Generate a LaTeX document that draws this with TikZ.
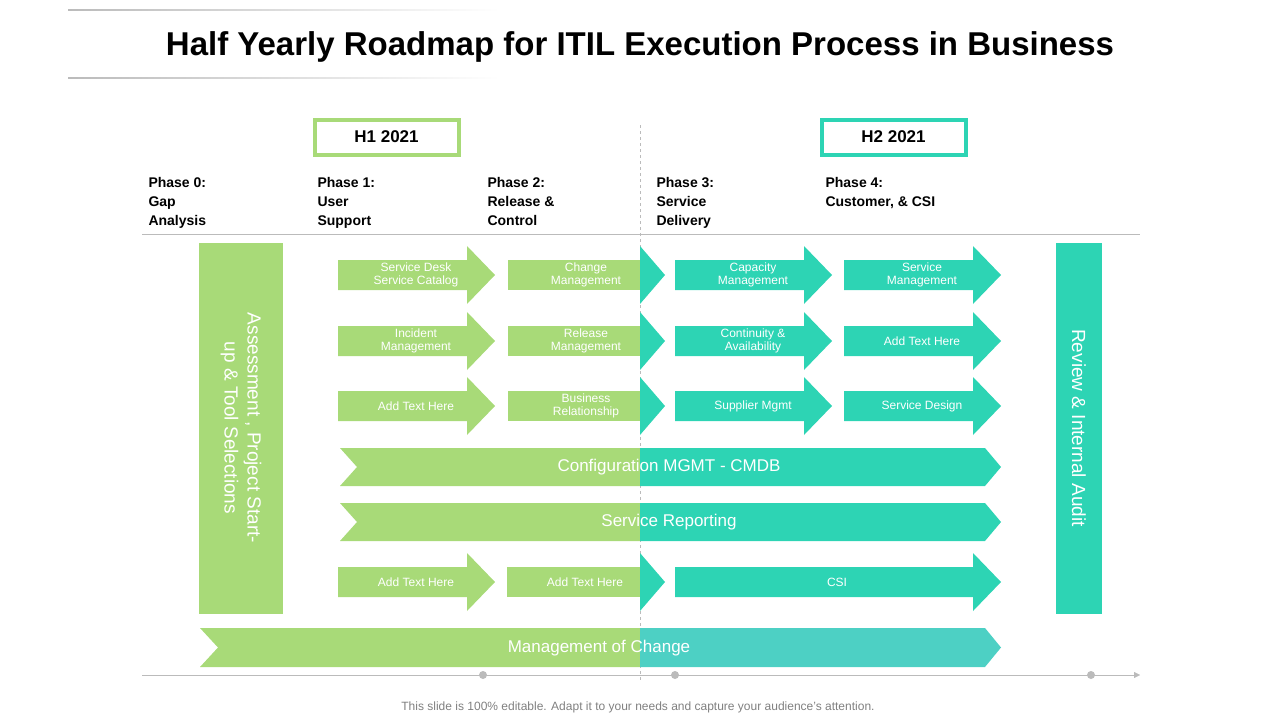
\documentclass[tikz,border=0pt]{standalone}
\usepackage{fontspec}
\setmainfont{Liberation Sans}
\usetikzlibrary{arrows.meta}
\definecolor{gr}{HTML}{A8DA78}
\definecolor{tl}{HTML}{2DD4B4}
\definecolor{tl2}{HTML}{4DD0C4}
\definecolor{ln}{HTML}{BBBBBB}
\tikzset{wt/.style={text=white,font=\fontsize{12}{13}\selectfont,align=center},
ph/.style={font=\fontsize{14}{19}\selectfont\bfseries,align=left,anchor=north west},
bt/.style={text=white,font=\fontsize{17}{19}\selectfont}}
% arrow: x1,x2,yc,color
\newcommand\myarr[4]{\fill[#4] (#1,#3-15)--(#2-28,#3-15)--(#2-28,#3-29)--(#2,#3)--(#2-28,#3+29)--(#2-28,#3+15)--(#1,#3+15)--cycle;}
\newcommand\mysplit[2]{\fill[gr] (#1,#2-15)--(640,#2-15)--(640,#2+15)--(#1,#2+15)--cycle;
\fill[tl] (640,#2-29)--(665,#2)--(640,#2+29)--cycle;}
\begin{document}
\begin{tikzpicture}[x=1pt,y=-1pt]
\useasboundingbox (0,0) rectangle (1280,720);
% title
\shade[left color=ln,right color=white] (68,9.5) rectangle (500,10.5);
\shade[left color=ln,right color=white] (68,77.5) rectangle (500,78.5);
\node (title) at (640,47) {\fontsize{33}{36}\selectfont\bfseries Half Yearly Roadmap for ITIL Execution Process in Business};
% headers
\node[draw=gr,line width=4pt,minimum width=144pt,minimum height=35pt,font=\fontsize{17}{18}\selectfont\bfseries] (h1) at (386.5,137) {H1 2021};
\node[draw=tl,line width=4pt,minimum width=144pt,minimum height=35pt,font=\fontsize{17}{18}\selectfont\bfseries] (h2) at (893.5,137) {H2 2021};
\draw[ln,dashed] (640,125)--(640,680);
\node[ph] (p0) at (145,174) {Phase 0:\\Gap\\Analysis};
\node[ph] (p1) at (314,174) {Phase 1:\\User\\Support};
\node[ph] (p2) at (484,174) {Phase 2:\\Release \&\\Control};
\node[ph] (p3) at (653,174) {Phase 3:\\Service\\Delivery};
\node[ph] (p4) at (822,174) {Phase 4:\\Customer, \& CSI};
\draw[ln] (142,234)--(1140,234);
% side bars
\fill[gr] (199,243) rectangle (283,614);
\node[text=white,font=\fontsize{19}{23}\selectfont,align=center,rotate=-90] (lb) at (241,428) {Assessment , Project Start-\\up \& Tool Selections};
\fill[tl] (1056,243) rectangle (1102,614);
\node[text=white,font=\fontsize{19}{23}\selectfont,rotate=-90] (rb) at (1079,428) {Review \& Internal Audit};
% rows
\myarr{338}{495}{275}{gr} \mysplit{508}{275} \myarr{675}{832}{275}{tl} \myarr{844}{1001}{275}{tl}
\myarr{338}{495}{341}{gr} \mysplit{508}{341} \myarr{675}{832}{341}{tl} \myarr{844}{1001}{341}{tl}
\myarr{338}{495}{406}{gr} \mysplit{508}{406} \myarr{675}{832}{406}{tl} \myarr{844}{1001}{406}{tl}
\myarr{338}{495}{582}{gr} \mysplit{507}{582} \myarr{675}{1001}{582}{tl}
\node[wt] (a11) at (416,275) {Service Desk\\Service Catalog};
\node[wt] (a12) at (586,275) {Change\\Management};
\node[wt] (a13) at (753,275) {Capacity\\Management};
\node[wt] (a14) at (922,275) {Service\\Management};
\node[wt] (a21) at (416,341) {Incident\\Management};
\node[wt] (a22) at (586,341) {Release\\Management};
\node[wt] (a23) at (753,341) {Continuity \&\\Availability};
\node[wt] (a24) at (922,341) {Add Text Here};
\node[wt] (a31) at (416,406) {Add Text Here};
\node[wt] (a32) at (586,406) {Business\\Relationship};
\node[wt] (a33) at (753,406) {Supplier Mgmt};
\node[wt] (a34) at (922,406) {Service Design};
\node[wt] (a41) at (416,582) {Add Text Here};
\node[wt] (a42) at (585,582) {Add Text Here};
\node[wt] (a43) at (837,582) {CSI};
% banners
\fill[gr] (340,448)--(640,448)--(640,486)--(340,486)--(357,467)--cycle;
\fill[tl] (640,448)--(985,448)--(1001,467)--(985,486)--(640,486)--cycle;
\node[bt] (cm) at (669,467) {Configuration MGMT - CMDB};
\fill[gr] (340,503)--(640,503)--(640,541)--(340,541)--(357,522)--cycle;
\fill[tl] (640,503)--(985,503)--(1001,522)--(985,541)--(640,541)--cycle;
\node[bt] (sr) at (669,522) {Service Reporting};
\fill[gr] (200,628)--(640,628)--(640,667)--(200,667)--(218,647.5)--cycle;
\fill[tl2] (640,628)--(985,628)--(1001,647.5)--(985,667)--(640,667)--cycle;
\node[bt] (mc) at (599,648) {Management of Change};
% timeline
\coordinate (t0) at (142,675); \coordinate (t1) at (1140,675);
\draw[ln,-{Triangle[length=6pt,width=6pt]}] (t0)--(t1);
\foreach \x in {483,675,1091} \fill[ln] (\x,675) circle (4);
\node[text=gray,font=\fontsize{12}{13}\selectfont] (ft) at (638,707) {This slide is 100\% editable. Adapt it to your needs and capture your audience's attention.};
\end{tikzpicture}
\end{document}
